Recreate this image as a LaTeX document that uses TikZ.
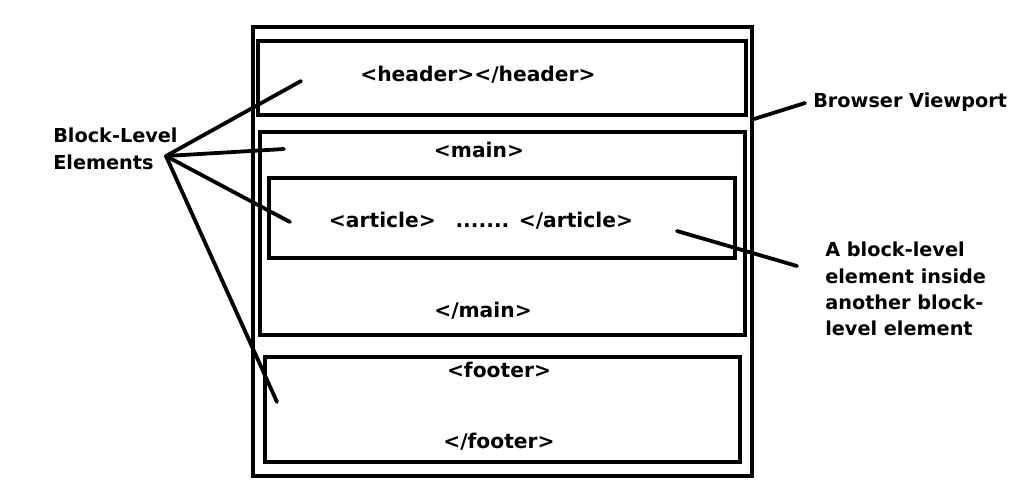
\documentclass[tikz,border=0pt]{standalone}
\usepackage{fontspec}
\setmainfont{DejaVu Sans}
\usetikzlibrary{calc}

\tikzset{
	boxline/.style={line width=2.7pt},
	pointer/.style={line width=2.7pt, line cap=round},
	tag/.style={font=\fontsize{14.4pt}{18.4pt}\selectfont\bfseries, inner sep=0pt},
	label/.style={font=\fontsize{13.7pt}{18.6pt}\selectfont\bfseries, inner sep=0pt},
}

\begin{document}
\begin{tikzpicture}[x=0.025cm,y=-0.025cm]
	\useasboundingbox (0,0) rectangle (1024,496);
	
	\draw[boxline] (253,27) rectangle (752,476);	%viewport
	\draw[boxline] (258,41) rectangle (746,115);	%header
	\draw[boxline] (260,132) rectangle (745,335);	%main
	\draw[boxline] (269,178) rectangle (735,258);	%article
	\draw[boxline] (265,357) rectangle (740,462);	%footer
	
	\node[tag, anchor=base] (hdr)   at (478,81)  {<header></header>};
	\node[tag, anchor=base] (mnop)  at (479,157) {<main>};
	\node[tag, anchor=base] (art)   at (481,227) {<article>\hspace{14pt}....... </article>};
	\node[tag, anchor=base] (mncl)  at (483,317) {</main>};
	\node[tag, anchor=base] (ftop)  at (499,377) {<footer>};
	\node[tag, anchor=base] (ftcl)  at (499,448) {</footer>};
	
	\node[label, anchor=north west, align=left] (blk) at (53,128) {Block-Level\\Elements};
	\node[label, anchor=base west] (bv) at (813,107) {Browser Viewport};
	\node[label, anchor=north west, align=left] (note) at (825,242)
		{A block-level\\element inside\\another block-\\level element};
	
	\coordinate (blkpt) at (166,156);
	\coordinate (hdpt)  at (301,81);	%header
	\coordinate (mnpt)  at (284,149);	%main
	\coordinate (arpt)  at (290,222);	%article
	\coordinate (ftpt)  at (277,402);	%footer
	\coordinate (vpin)  at (754,119);
	\coordinate (vpout) at (805,103);
	\coordinate (ntin)  at (677,231);
	\coordinate (ntout) at (797,266);
	
	\draw[pointer] (blkpt)--(hdpt);
	\draw[pointer] (blkpt)--(mnpt);
	\draw[pointer] (blkpt)--(arpt);
	\draw[pointer] (blkpt)--(ftpt);
	\draw[pointer] (vpin)--(vpout);		%viewport--label
	\draw[pointer] (ntin)--(ntout);		%article--note
\end{tikzpicture}
\end{document}
